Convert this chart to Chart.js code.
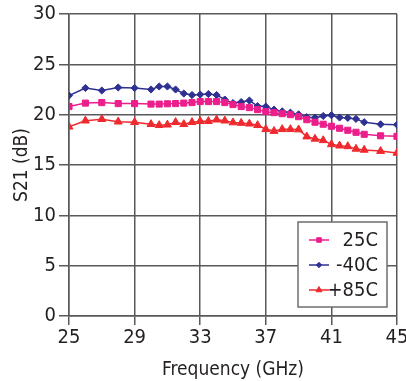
<!DOCTYPE html>
<html>
<head>
<meta charset="utf-8">
<script src="https://cdn.jsdelivr.net/npm/chart.js@4/dist/chart.umd.min.js"></script>
<style>
  html, body { margin: 0; padding: 0; background: #fff; }
  #wrap { width: 406px; height: 381px; }
</style>
</head>
<body>
<div id="wrap"><canvas id="chart" width="406" height="381"></canvas></div>
<script>
  const FONT = '"Liberation Sans Narrow", "DejaVu Sans Condensed", "Arial Narrow", sans-serif';

  // frequency points (GHz)
  const freq = [25, 26, 27, 28, 29, 30, 30.5, 31, 31.5, 32, 32.5, 33, 33.5, 34, 34.5, 35, 35.5,
    36, 36.5, 37, 37.5, 38, 38.5, 39, 39.5, 40, 40.5, 41, 41.5, 42, 42.5, 43, 44, 45];

  // S21 (dB) per temperature
  const s21_25C = [20.8, 21.15, 21.2, 21.1, 21.1, 21.05, 21.05, 21.08, 21.1, 21.15, 21.2, 21.3, 21.3,
    21.3, 21.2, 21.0, 20.8, 20.7, 20.5, 20.3, 20.2, 20.1, 20.0, 19.8, 19.5, 19.25, 19.05, 18.85,
    18.65, 18.45, 18.25, 18.05, 17.9, 17.85];
  const s21_m40C = [21.9, 22.65, 22.4, 22.7, 22.65, 22.5, 22.8, 22.8, 22.5, 22.1, 21.95, 22.0, 22.05,
    21.95, 21.5, 21.15, 21.25, 21.4, 20.85, 20.8, 20.5, 20.33, 20.2, 20.03, 19.75, 19.7, 19.87,
    19.95, 19.72, 19.68, 19.58, 19.25, 19.04, 19.0];
  const s21_85C = [18.8, 19.4, 19.55, 19.3, 19.25, 19.05, 18.95, 19.0, 19.25, 19.05, 19.25, 19.35,
    19.35, 19.5, 19.4, 19.22, 19.17, 19.1, 18.95, 18.55, 18.37, 18.55, 18.55, 18.52, 17.82, 17.6,
    17.45, 17.05, 16.92, 16.85, 16.6, 16.5, 16.38, 16.2];

  const xTicks = [25, 29, 33, 37, 41, 45];
  const yTicks = [0, 5, 10, 15, 20, 25, 30];

  const series = [
    { label: '25C', data: s21_25C, color: '#ec1e8c', style: 'rect', radius: 4.3 },
    { label: '-40C', data: s21_m40C, color: '#2e3192', style: 'rectRot', radius: 3.6 },
    { label: '+85C', data: s21_85C, color: '#ee2a2f', style: 'triangle', radius: 4.6 },
  ];

  // legend box in the lower right of the plot
  const boxLegend = {
    id: 'boxLegend',
    afterDraw(chart) {
      const { ctx, chartArea } = chart;
      const right = chartArea.right - 10;
      const left = chartArea.right - 99;
      const top = chartArea.bottom - 94;
      const bottom = chartArea.bottom - 9;
      ctx.save();
      ctx.fillStyle = '#fff';
      ctx.fillRect(left, top, right - left, bottom - top);
      ctx.strokeStyle = '#6d6e71';
      ctx.lineWidth = 1.5;
      ctx.strokeRect(left, top, right - left, bottom - top);
      chart.data.datasets.forEach((ds, i) => {
        const y = top + 18 + i * 25;
        ctx.strokeStyle = ds.borderColor;
        ctx.fillStyle = ds.borderColor;
        ctx.lineWidth = 1.5;
        ctx.beginPath();
        ctx.moveTo(left + 11, y);
        ctx.lineTo(left + 31, y);
        ctx.stroke();
        ctx.lineWidth = 1;
        Chart.helpers.drawPoint(ctx, {
          pointStyle: ds.pointStyle, radius: ds.pointRadius * 0.75, borderWidth: 1, rotation: 0,
        }, left + 21, y);
        ctx.fillStyle = '#231f20';
        ctx.font = '20px ' + FONT;
        ctx.textAlign = 'right';
        ctx.textBaseline = 'middle';
        ctx.fillText(ds.label, right - 9, y + 1);
      });
      ctx.restore();
    },
  };

  const gridColor = '#58595b';

  new Chart(document.getElementById('chart'), {
    type: 'line',
    data: {
      datasets: series.map(s => ({
        label: s.label,
        data: freq.map((f, i) => ({ x: f, y: s.data[i] })),
        borderColor: s.color,
        backgroundColor: s.color,
        pointBackgroundColor: s.color,
        pointBorderColor: s.color,
        pointStyle: s.style,
        pointRadius: s.radius,
        pointBorderWidth: 1,
        borderWidth: 1.5,
        tension: 0,
      })),
    },
    options: {
      responsive: false,
      animation: false,
      devicePixelRatio: 1,
      layout: { padding: { left: 0, right: 9, top: 14, bottom: 0 } },
      plugins: { legend: { display: false }, tooltip: { enabled: false } },
      scales: {
        x: {
          type: 'linear',
          min: 25,
          max: 45,
          afterFit(scale) { scale.height = 65; scale.paddingRight = 0; scale.paddingLeft = 0; },
          afterBuildTicks(scale) { scale.ticks = xTicks.map(v => ({ value: v })); },
          ticks: { color: '#231f20', font: { family: FONT, size: 20 }, padding: 1, maxRotation: 0 },
          grid: { color: gridColor, lineWidth: 1.5, tickLength: 9, tickColor: gridColor },
          border: { color: gridColor, width: 1.5 },
          title: {
            display: true, text: 'Frequency (GHz)', color: '#231f20',
            font: { family: FONT, size: 19 }, padding: { top: 3, bottom: 0 },
          },
        },
        y: {
          min: 0,
          max: 30,
          afterFit(scale) { scale.width = 69; scale.paddingTop = 0; scale.paddingBottom = 0; },
          afterBuildTicks(scale) { scale.ticks = yTicks.map(v => ({ value: v })); },
          ticks: { color: '#231f20', font: { family: FONT, size: 20 }, padding: 3 },
          grid: { color: gridColor, lineWidth: 1.5, tickLength: 10, tickColor: gridColor },
          border: { color: gridColor, width: 1.5 },
          title: {
            display: true, text: 'S21 (dB)', color: '#231f20',
            font: { family: FONT, size: 19 }, padding: { top: 11, bottom: 0 },
          },
        },
      },
    },
    plugins: [boxLegend],
  });
</script>
</body>
</html>
